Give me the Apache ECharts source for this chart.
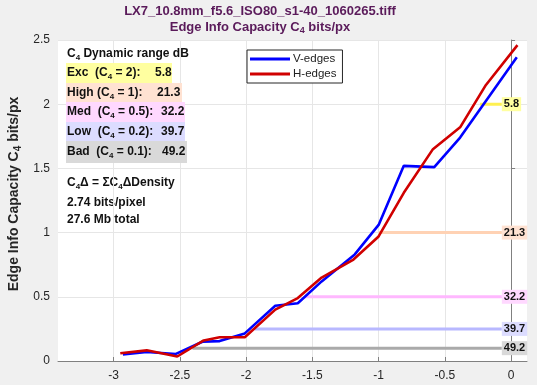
<!DOCTYPE html>
<html><head><meta charset="utf-8">
<script src="https://cdn.jsdelivr.net/npm/echarts@6/dist/echarts.min.js"></script>
<style>html,body{margin:0;padding:0;background:#f0f0f0}#c{width:537px;height:385px}</style>
</head><body><div id="c"></div>
<script>
const vX = [-2.93,-2.75,-2.53,-2.33,-2.2,-2.01,-1.78,-1.61,-1.43,-1.18,-1.0,-0.81,-0.58,-0.385,0.043];
const vY = [0.05,0.07,0.055,0.15,0.155,0.215,0.43,0.45,0.62,0.83,1.06,1.52,1.51,1.74,2.365];
const hX = [-2.95,-2.75,-2.52,-2.32,-2.2,-2.01,-1.78,-1.61,-1.43,-1.19,-1.0,-0.81,-0.59,-0.385,-0.19,0.048];
const hY = [0.06,0.083,0.035,0.16,0.185,0.185,0.40,0.49,0.65,0.79,0.97,1.31,1.65,1.82,2.15,2.46];
const levelY = [2,1,0.5,0.25,0.1];
const levelStartX = [-0.234,-1.0,-1.557,-1.935,-2.405];
const levelEndX = -0.07;
const levelLabels = ['5.8','21.3','32.2','39.7','49.2'];
const levelNames = ['Exc ','High','Med ','Low ','Bad '];
const levelC4 = ['2','1','0.5','0.2','0.1'];
const xTicks = [-3,-2.5,-2,-1.5,-1,-0.5,0];
const summary = ['2.74 bits/pixel','27.6 Mb total'];

const lineColors = ['#fff050','#ffd2b4','#ffb8ff','#b8b8ff','#aaaaaa'];
const boxColors = ['#ffffa0','#ffe2d2','#ffd8ff','#dcdcff','#d9d9d9'];
const FONT = '"Liberation Sans", Arial, Helvetica, sans-serif';
const sub = {fontSize: 8, fontWeight: 'bold', fontFamily: FONT, padding: [8,0,0,0]};

const series = [];
levelY.forEach((y, i) => {
  series.push({
    type: 'line', name: 'lvl' + i, data: [[levelStartX[i], y], [levelEndX, y]],
    symbol: 'none', silent: true, z: 1,
    lineStyle: {color: lineColors[i], width: 3},
    endLabel: {show: true, formatter: levelLabels[i], distance: 0,
      backgroundColor: boxColors[i], padding: [2, 2, 1, 2],
      color: '#111', fontWeight: 'bold', fontSize: 11, fontFamily: FONT}
  });
});
series.push({type: 'line', name: 'V-edges', data: vX.map((x, i) => [x, vY[i]]),
  symbol: 'none', z: 3, lineStyle: {color: '#0000ff', width: 2.6}, itemStyle: {color: '#0000ff'}});
series.push({type: 'line', name: 'H-edges', data: hX.map((x, i) => [x, hY[i]]),
  symbol: 'none', z: 4, lineStyle: {color: '#d00000', width: 2.6}, itemStyle: {color: '#d00000'}});

const graphic = [];
graphic.push({type: 'text', x: 260, y: 11, style: {text: 'LX7_10.8mm_f5.6_ISO80_s1-40_1060265.tiff',
  align: 'center', verticalAlign: 'middle', font: 'bold 13px ' + FONT, fill: '#5a1a5a'}});
graphic.push({type: 'text', x: 260, y: 27, style: {text: 'Edge Info Capacity C{s|4} bits/px',
  align: 'center', verticalAlign: 'middle', font: 'bold 13px ' + FONT, fill: '#5a1a5a',
  rich: {s: {fontSize: 9, fontWeight: 'bold', fill: '#5a1a5a', padding: [8,0,0,0], fontFamily: FONT}}}});
graphic.push({type: 'text', x: 14, y: 194, rotation: Math.PI / 2, style: {text: 'Edge Info Capacity C{s|4} bits/px',
  align: 'center', verticalAlign: 'middle', font: 'bold 14px ' + FONT, fill: '#262626',
  rich: {s: {fontSize: 10, fontWeight: 'bold', fill: '#262626', padding: [9,0,0,0], fontFamily: FONT}}}});
graphic.push({type: 'text', x: 67, y: 54, style: {text: 'C{s|4} Dynamic range dB',
  verticalAlign: 'middle', font: 'bold 12px ' + FONT, fill: '#111', rich: {s: sub}}});
const rowTop = [63, 83, 102, 122, 141];
const rowH = [20, 19, 20, 19, 22];
const rowW = [106, 116, 119, 119, 121];
const valX = [155, 157, 161, 161, 162];
levelNames.forEach((n, i) => {
  graphic.push({type: 'rect', shape: {x: 66, y: rowTop[i], width: rowW[i], height: rowH[i]},
    style: {fill: boxColors[i]}, z: 10});
  graphic.push({type: 'text', x: 67, y: rowTop[i] + rowH[i] / 2, z: 11, style: {
    text: n + ' (C{s|4} = ' + levelC4[i] + '):', verticalAlign: 'middle',
    font: 'bold 12px ' + FONT, fill: '#111', rich: {s: sub}}});
  graphic.push({type: 'text', x: valX[i], y: rowTop[i] + rowH[i] / 2, z: 11, style: {
    text: levelLabels[i], verticalAlign: 'middle', font: 'bold 12px ' + FONT, fill: '#111'}});
});
graphic.push({type: 'text', x: 67, y: 183, style: {text: 'C{s|4}\u0394 = \u03a3C{s|4}\u0394Density',
  verticalAlign: 'middle', font: 'bold 12px ' + FONT, fill: '#111', rich: {s: sub}}});
graphic.push({type: 'text', x: 67, y: 203, style: {text: summary[0],
  verticalAlign: 'middle', font: 'bold 12px ' + FONT, fill: '#111'}});
graphic.push({type: 'text', x: 67, y: 220, style: {text: summary[1],
  verticalAlign: 'middle', font: 'bold 12px ' + FONT, fill: '#111'}});

const chart = echarts.init(document.getElementById('c'));
chart.setOption({
  backgroundColor: '#f0f0f0',
  animation: false,
  textStyle: {fontFamily: FONT},
  grid: {left: 58, right: 10, top: 40, bottom: 24, show: true, backgroundColor: '#ffffff', borderWidth: 0},
  legend: {data: ['V-edges', 'H-edges'], orient: 'vertical', left: 247, top: 50,
    backgroundColor: '#ffffff', borderColor: '#262626', borderWidth: 1, borderRadius: 0,
    padding: [3, 6, 3, 3], itemGap: 3, itemWidth: 40, itemHeight: 3, icon: 'rect',
    textStyle: {fontSize: 11.5, color: '#222', fontFamily: FONT, padding: [0,0,0,-2]}},
  xAxis: {type: 'value', min: -3.42, max: 0.12,
    axisLine: {lineStyle: {color: '#808080', width: 1}},
    axisTick: {inside: true, length: 4, lineStyle: {color: '#808080'}, customValues: xTicks},
    axisLabel: {customValues: xTicks, color: '#262626', fontSize: 12, margin: 9,
      formatter: v => String(v)},
    splitLine: {show: true, lineStyle: {color: '#e6e6e6', width: 1}}},
  yAxis: {type: 'value', min: 0, max: 2.5, interval: 0.5,
    axisLine: {show: true, lineStyle: {color: '#808080', width: 1}},
    axisTick: {show: true, inside: true, length: 4, lineStyle: {color: '#808080'}},
    axisLabel: {color: '#262626', fontSize: 12, margin: 8, formatter: v => String(v)},
    splitLine: {show: true, lineStyle: {color: '#e6e6e6', width: 1}}},
  series: series,
  graphic: graphic
});
</script></body></html>
